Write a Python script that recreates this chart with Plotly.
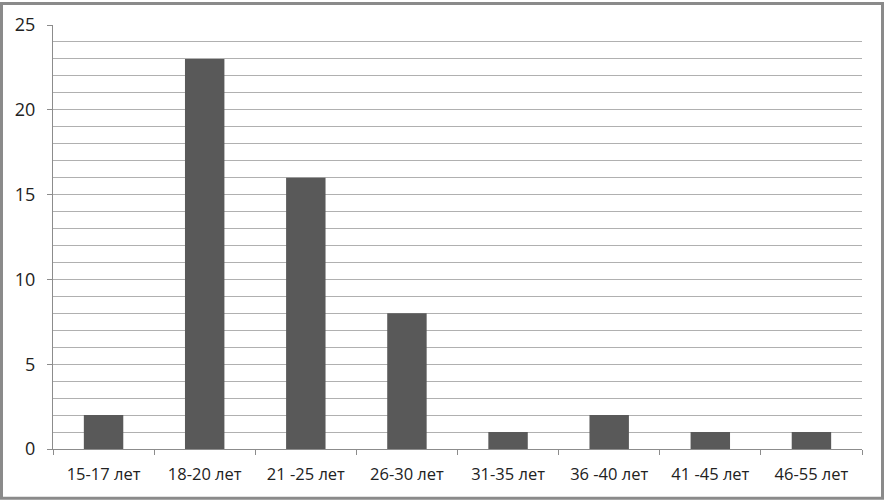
import plotly.graph_objects as go

categories = ["15-17 лет", "18-20 лет", "21 -25 лет", "26-30 лет", "31-35 лет", "36 -40 лет", "41 -45 лет", "46-55 лет"]
values = [2, 23, 16, 8, 1, 2, 1, 1]
y_ticks = [0, 5, 10, 15, 20, 25]

fig = go.Figure(go.Bar(x=categories, y=values, marker=dict(color="#595959", line=dict(width=0)), width=0.39))

fig.update_layout(
    width=886, height=501,
    margin=dict(l=53, r=24, t=23, b=52),
    paper_bgcolor="white", plot_bgcolor="white",
    showlegend=False,
    font=dict(family="Open Sans, Liberation Sans, sans-serif", color="#222222"),
    shapes=[dict(type="rect", xref="paper", yref="paper", x0=-51.5/809, x1=1+20.5/809, y0=-49.5/426, y1=1+21.5/426,
                 line=dict(color="#8a8a8a", width=3), fillcolor="rgba(0,0,0,0)", layer="below")],
)
fig.update_xaxes(
    type="category", showline=True, linecolor="#8c8c8c", linewidth=1,
    ticks="outside", tickson="boundaries", ticklen=5, tickcolor="#8c8c8c",
    tickfont=dict(size=16.5), showgrid=False, ticklabelstandoff=10,
)
fig.update_yaxes(
    range=[0, 25], tickvals=y_ticks, showline=True, linecolor="#8c8c8c", linewidth=1,
    ticks="outside", ticklen=5, tickcolor="#8c8c8c", tickfont=dict(size=18),
    ticklabelstandoff=8,
    showgrid=True, gridcolor="#b0b0b0", gridwidth=1,
    minor=dict(dtick=1, showgrid=True, gridcolor="#b0b0b0", gridwidth=1),
    zeroline=False,
)
fig.write_html("out.html", post_script="document.body.style.margin='0';", config={"displayModeBar": False})
